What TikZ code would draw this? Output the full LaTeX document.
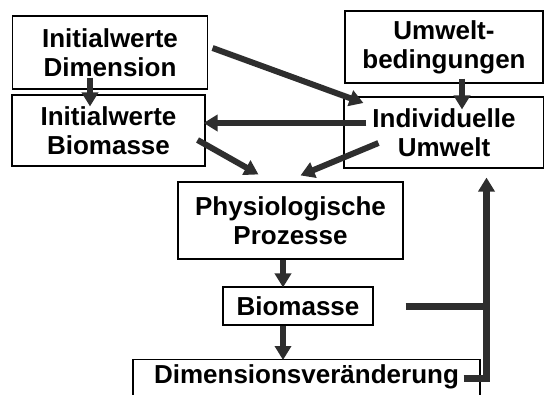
\documentclass[tikz,border=0pt]{standalone}
\usepackage{fontspec}
\setmainfont{Liberation Sans}
\usetikzlibrary{arrows.meta}
\definecolor{ink}{HTML}{2E2E2E}
\begin{document}
\begin{tikzpicture}[x=1pt,y=-1pt,
  box/.style={draw=black, line width=1.1pt, inner sep=0pt, align=center,
    font=\fontsize{26}{29}\selectfont\bfseries},
  arr/.style={draw=ink, line width=6pt, -{Triangle[length=14pt,width=16pt]}},
  fb/.style={draw=ink, line width=6.5pt}]
\useasboundingbox (0,0) rectangle (544,394);
\node[box, minimum width=195pt, minimum height=73pt] (initdim) at (110,52.5) {Initialwerte\\Dimension};
\node[box, minimum width=193pt, minimum height=71pt] (initbio) at (108.5,130.5) {Initialwerte\\Biomasse};
\node[box, minimum width=198pt, minimum height=72pt] (umweltb) at (444,47) {Umwelt-\\bedingungen};
\node[box, minimum width=200pt, minimum height=71pt] (indiv) at (444,132.5) {Individuelle\\Umwelt};
\node[box, minimum width=225pt, minimum height=77pt] (physio) at (290.5,220.5) {Physiologische\\Prozesse};
\node[box, minimum width=150pt, minimum height=38pt] (bio) at (298,306) {Biomasse};
\node[box, anchor=north, minimum width=347pt, inner ysep=5pt, text height=19pt, text depth=40pt] (dimv) at (306.5,359) {Dimensionsveränderung};
% arrows
\draw[arr] ([shift={(-20,-12)}]initdim.south) -- ([shift={(-18.5,12)}]initbio.north);
\draw[arr] ([shift={(4.5,-4.5)}]initdim.east) -- ([shift={(20,-29.5)}]indiv.west);
\draw[arr] ([shift={(23,-9.5)}]indiv.west) -- ([shift={(-2,-7.5)}]initbio.east);
\draw[arr] ([shift={(18,-5)}]umweltb.south) -- ([shift={(18,13)}]indiv.north);
\draw[arr] ([shift={(-8,9.5)}]initbio.east) -- ([shift={(-32,-7)}]physio.north);
\draw[arr] ([shift={(35,10.5)}]indiv.west) -- ([shift={(10,-6)}]physio.north);
\draw[arr] ([shift={(-7.5,0)}]physio.south) -- ([shift={(-15,1)}]bio.north);
\draw[arr] ([shift={(-15,0)}]bio.south) -- ([shift={(-23.5,1)}]dimv.north);
% feedback
\coordinate (fbtop) at ([shift={(42.5,9)}]indiv.south);
\coordinate (bioout) at ([shift={(32,0.5)}]bio.east);
\coordinate (dimout) at ([shift={(-17,19.5)}]dimv.north east);
\draw[fb] (dimout) -- (dimout -| fbtop) -- ([yshift=-3pt]dimout -| fbtop);
\draw[arr, line width=6.5pt] ([yshift=-3pt]dimout -| fbtop) -- (fbtop);
\draw[fb] (bioout) -- (bioout -| fbtop);
\end{tikzpicture}
\end{document}
